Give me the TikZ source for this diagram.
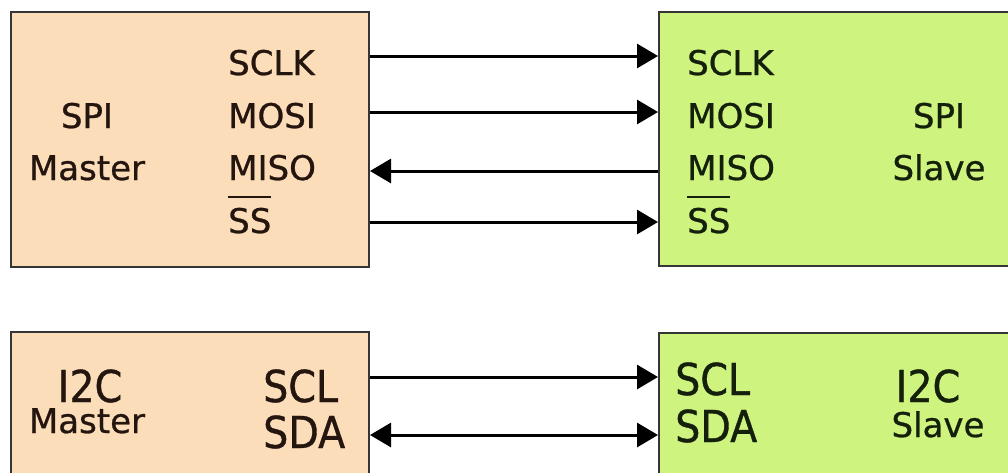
\documentclass[tikz,border=0pt]{standalone}
\usepackage{fontspec}
\usetikzlibrary{arrows.meta}
\newfontfamily\dejavu[FakeBold=0.8]{DejaVu Sans}
\newfontfamily\dejavucond[FakeStretch=0.9,FakeBold=0.8]{DejaVu Sans}
\definecolor{masterfill}{HTML}{FCDDBA}
\definecolor{slavefill}{HTML}{CEF37E}
\definecolor{boxline}{HTML}{353535}
\definecolor{mastertext}{HTML}{24160F}
\definecolor{slavetext}{HTML}{15200C}
% overlined signal name (active-low)
\newcommand\actlow[1]{\leavevmode\vbox{\hrule height 2.4pt\kern 9.5pt\hbox{#1}}}
\tikzset{
  master/.style={draw=boxline, line width=2pt, fill=masterfill, inner sep=0pt},
  slave/.style={draw=boxline, line width=2pt, fill=slavefill, inner sep=0pt},
  sig/.style={inner sep=0pt, anchor=base west, font=\dejavu\fontsize{34}{40}\selectfont},
  title/.style={inner sep=0pt, anchor=base, font=\dejavu\fontsize{34}{40}\selectfont},
  bigsig/.style={inner sep=0pt, anchor=base west, font=\dejavucond\fontsize{44}{50}\selectfont},
  bigtitle/.style={inner sep=0pt, anchor=base, text depth=0pt, font=\dejavucond\fontsize{44}{50}\selectfont},
  wire/.style={line width=3pt, black, -{Triangle[length=21pt,width=24pt]}},
  biwire/.style={line width=3pt, black, {Triangle[length=21pt,width=24pt]}-{Triangle[length=21pt,width=24pt]}},
}
\begin{document}
\begin{tikzpicture}[x=1pt, y=-1pt]
\useasboundingbox (0,0) rectangle (1008,472);
\clip (0,0) rectangle (1008,472);
\fill[white] (0,0) rectangle (1008,472);

% ---------------- SPI ----------------
\node[master, minimum width=358pt, minimum height=255pt] (spim) at (190,139.5) {};
\node[slave, minimum width=380pt, minimum height=254pt] (spis) at (849,139) {};

\begin{scope}[text=mastertext]
\node[title] (spimA) at (87,128) {SPI};
\node[title] (spimB) at (87,180) {Master};
\node[sig] (msclk) at (228,75) {SCLK};
\node[sig] (mmosi) at (228,128) {MOSI};
\node[sig] (mmiso) at (228,180) {MISO};
\node[sig] (mss) at (228,233) {\actlow{SS}};
\end{scope}

\begin{scope}[text=slavetext]
\node[title] (spisA) at (939,128) {SPI};
\node[title] (spisB) at (939,180) {Slave};
\node[sig] (ssclk) at (687,75) {SCLK};
\node[sig] (smosi) at (687,128) {MOSI};
\node[sig] (smiso) at (687,180) {MISO};
\node[sig] (sss) at (687,233) {\actlow{SS}};
\end{scope}

% port points on the box edges
\coordinate (pm1) at (spim.east |- 0,56);
\coordinate (pm2) at (spim.east |- 0,112);
\coordinate (pm3) at (spim.east |- 0,171);
\coordinate (pm4) at (spim.east |- 0,222);
\coordinate (ps1) at (spis.west |- 0,56);
\coordinate (ps2) at (spis.west |- 0,112);
\coordinate (ps3) at (spis.west |- 0,171);
\coordinate (ps4) at (spis.west |- 0,222);

\draw[wire] (pm1) -- (ps1);
\draw[wire] (pm2) -- (ps2);
\draw[wire] (ps3) -- (pm3);
\draw[wire] (pm4) -- (ps4);

% ---------------- I2C ----------------
\node[master, minimum width=358pt, minimum height=180pt] (i2cm) at (190,422) {};
\node[slave, minimum width=380pt, minimum height=180pt] (i2cs) at (849,423) {};

\begin{scope}[text=mastertext]
\node[bigtitle] (i2cmA) at (90,402) {I2C};
\node[title] (i2cmB) at (87,433) {Master};
\node[bigsig] (mscl) at (263,402) {SCL};
\node[bigsig] (msda) at (263,448) {SDA};
\end{scope}

\begin{scope}[text=slavetext]
\node[bigtitle] (i2csA) at (928,402) {I2C};
\node[title] (i2csB) at (938,437) {Slave};
\node[bigsig] (sscl) at (675,395) {SCL};
\node[bigsig] (ssda) at (675,442) {SDA};
\end{scope}

\coordinate (qm1) at (i2cm.east |- 0,377);
\coordinate (qm2) at (i2cm.east |- 0,435);
\coordinate (qs1) at (i2cs.west |- 0,377);
\coordinate (qs2) at (i2cs.west |- 0,435);

\draw[wire] (qm1) -- (qs1);
\draw[biwire] (qm2) -- (qs2);
\end{tikzpicture}
\end{document}
